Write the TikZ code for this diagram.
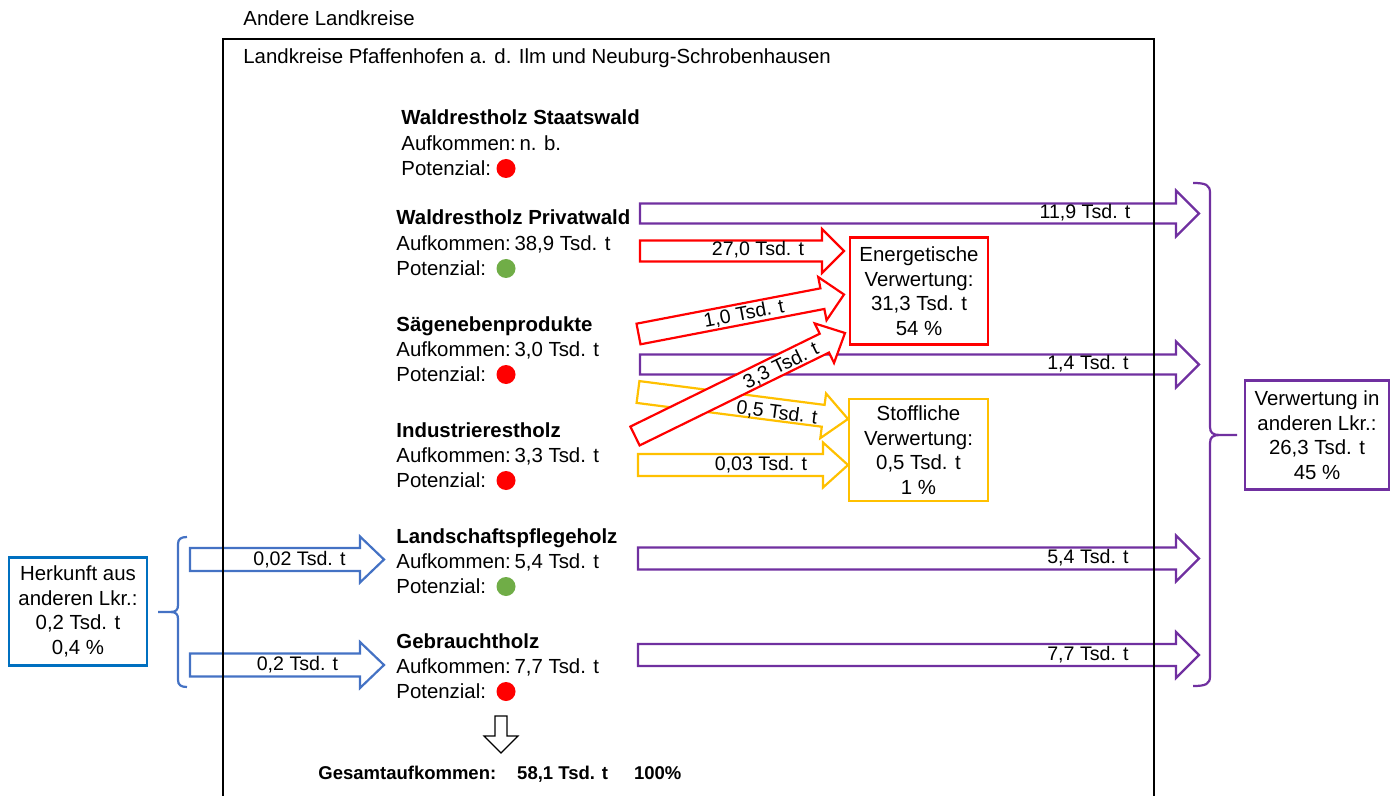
\documentclass[tikz,border=0pt]{standalone}
\usepackage{fontspec}
\setmainfont{Liberation Sans}
\usetikzlibrary{calc}

\definecolor{vio}{HTML}{7030A0}
\definecolor{rd}{HTML}{FF0000}
\definecolor{ylw}{HTML}{FFC000}
\definecolor{blu}{HTML}{4472C4}
\definecolor{boxblu}{HTML}{0070C0}
\definecolor{grn}{HTML}{70AD47}

\tikzset{
  txt/.style={inner sep=0pt, font=\fontsize{10.2}{12}\selectfont},
  ttl/.style={inner sep=0pt, font=\fontsize{10.2}{12}\selectfont\bfseries},
  lbl/.style={inner sep=0pt, font=\fontsize{9.8}{12}\selectfont},
  dot/.style={circle, inner sep=0pt, minimum size=9.5pt},
  sink/.style={draw, line width=1.1pt, align=center, inner sep=0pt,
    font=\fontsize{10.2}{12.25}\selectfont},
  flowV/.style={draw=vio, line width=1.1pt},
  flowR/.style={draw=rd, fill=white, line width=1.1pt},
  flowY/.style={draw=ylw, line width=1.1pt},
  flowB/.style={draw=blu, line width=1.1pt},
  sumarrow/.style={draw=black, fill=white, line width=0.6pt},
  frame/.style={draw=black, line width=0.8pt},
}

% Block arrow from coordinate #2 to coordinate #3;
% #4 body half-width, #5 head half-width, #6 head length (pt)
\makeatletter
\newcommand\blockarrow[6]{%
  \pgfpointdiff{\pgfpointanchor{#2}{center}}{\pgfpointanchor{#3}{center}}%
  \edef\ba@dx{\the\pgf@x}\edef\ba@dy{\the\pgf@y}%
  \pgfmathsetmacro\ba@len{veclen(\ba@dx,\ba@dy)}%
  \pgfmathsetmacro\ba@ang{atan2(\ba@dy,\ba@dx)}%
  \pgfmathsetmacro\ba@neck{\ba@len-#6}%
  \begin{scope}[shift={(#2)}, rotate=\ba@ang]
    \draw[#1] (0pt,-#4pt) -- (\ba@neck pt,-#4pt) -- (\ba@neck pt,-#5pt)
      -- (\ba@len pt,0pt) -- (\ba@neck pt,#5pt) -- (\ba@neck pt,#4pt)
      -- (0pt,#4pt) -- cycle;
  \end{scope}}
\makeatother

% One source: title, amount and potential dot
\newcommand\srcblock[6]{%
  \node[ttl, anchor=base west] (#1) at (#2,#3+7) {#4};
  \node[txt, anchor=base west] (#1-a) at (#2,#3+32.5) {Aufkommen:\hspace{1.8pt}#5};
  \node[txt, anchor=base west] (#1-p) at (#2,#3+57.5) {Potenzial:};
  \node[dot, fill=#6] (#1-d) at (506,#3+50.5) {};}

\begin{document}
\begin{tikzpicture}[x=0.5pt,y=-0.5pt]
\useasboundingbox (0,0) rectangle (1395,796);

% headings
\node[txt, anchor=base west] (outer) at (243,26) {Andere Landkreise};
\node[txt, anchor=base west] (inner) at (243,64) {Landkreise Pfaffenhofen a. d. Ilm und Neuburg-Schrobenhausen};

% sources
\srcblock{staat}{401}{118}{Waldrestholz Staatswald}{n. b.}{rd}
\srcblock{privat}{396}{218}{Waldrestholz Privatwald}{38,9 Tsd. t}{grn}
\srcblock{saege}{396}{324}{Sägenebenprodukte}{3,0 Tsd. t}{rd}
\srcblock{indu}{396}{430}{Industrierestholz}{3,3 Tsd. t}{rd}
\srcblock{land}{396}{536}{Landschaftspflegeholz}{5,4 Tsd. t}{grn}
\srcblock{gebr}{396}{641}{Gebrauchtholz}{7,7 Tsd. t}{rd}

% sinks
\node[sink, draw=rd, minimum width=69pt, minimum height=53.5pt] (energ) at (919,291)
  {Energetische\\Verwertung:\\31,3 Tsd. t\\54 \%};
\node[sink, draw=ylw, minimum width=69.5pt, minimum height=51pt] (stoff) at (918.5,450)
  {Stoffliche\\Verwertung:\\0,5 Tsd. t\\1 \%};
\node[sink, draw=vio, minimum width=72pt, minimum height=54.5pt] (export) at (1317,435)
  {Verwertung in\\anderen Lkr.:\\26,3 Tsd. t\\45 \%};
\node[sink, draw=boxblu, minimum width=69pt, minimum height=54pt] (import) at (78,611.5)
  {Herkunft aus\\anderen Lkr.:\\0,2 Tsd. t\\0,4 \%};

% arrow end points
\coordinate (v1s) at (640,213.5);  \coordinate (v1e) at (1199,213.5);
\coordinate (v2s) at (640,364.5);  \coordinate (v2e) at (1199,364.5);
\coordinate (v3s) at (638,558.5);  \coordinate (v3e) at (1199,558.5);
\coordinate (v4s) at (638,655);    \coordinate (v4e) at (1199,655);
\coordinate (y1s) at (638,392);    \coordinate (y1e) at (848,419);
\coordinate (y2s) at (638,465);    \coordinate (y2e) at (848,465);
\coordinate (r1s) at (640,251);    \coordinate (r1e) at (844,251);
\coordinate (r2s) at (638.5,334);  \coordinate (r2e) at (844,294.5);
\coordinate (r3s) at (635,436);    \coordinate (r3e) at (845,333);
\coordinate (b1s) at (190,559.5);  \coordinate (b1e) at (384,559.5);
\coordinate (b2s) at (190,665);    \coordinate (b2e) at (384,665);
\coordinate (ds)  at (501,716);    \coordinate (de)  at (501,753);

% flows to other districts
\blockarrow{flowV}{v1s}{v1e}{5}{11.5}{11.5}
\blockarrow{flowV}{v2s}{v2e}{5}{11.5}{11.5}
\blockarrow{flowV}{v3s}{v3e}{5.5}{11.5}{11.5}
\blockarrow{flowV}{v4s}{v4e}{5.5}{11.5}{11.5}
% material use
\blockarrow{flowY}{y1s}{y1e}{5.5}{11.25}{12.5}
\blockarrow{flowY}{y2s}{y2e}{5.5}{11.25}{12.5}
% imports
\blockarrow{flowB}{b1s}{b1e}{5.75}{11.5}{12}
\blockarrow{flowB}{b2s}{b2e}{5.75}{11.5}{12}
% energy use
\blockarrow{flowR}{r1s}{r1e}{5.25}{11}{11}
\blockarrow{flowR}{r2s}{r2e}{5.25}{11}{11}
\blockarrow{flowR}{r3s}{r3e}{5.25}{11}{11.5}
% total
\blockarrow{sumarrow}{ds}{de}{3}{8.5}{8.5}

% district frame
\draw[frame] (223,796) -- (223,39) -- (1154,39) -- (1154,796);

% braces
\draw[vio, line width=1.1pt]
  (1193,183) .. controls (1206,183) and (1210,185) .. (1210,193) -- (1210,427)
  .. controls (1210,433) and (1213,435) .. (1220,435) -- (1237,435)
  (1220,435) .. controls (1213,435) and (1210,437) .. (1210,443) -- (1210,676)
  .. controls (1210,684) and (1206,686) .. (1193,686);
\draw[blu, line width=1.1pt]
  (187,537) .. controls (181,537) and (178,539) .. (178,544) -- (178,605)
  .. controls (178,610) and (176,612) .. (170,612) -- (158,612)
  (170,612) .. controls (176,612) and (178,614) .. (178,619) -- (178,680)
  .. controls (178,685) and (181,687) .. (187,687);

% flow labels
\node[lbl] (l119) at (1085,213) {11,9 Tsd. t};
\node[lbl] (l14) at (1088,364) {1,4 Tsd. t};
\node[lbl] (l54) at (1088,558) {5,4 Tsd. t};
\node[lbl] (l77) at (1088,655) {7,7 Tsd. t};
\node[lbl] (l270) at (758,250) {27,0 Tsd. t};
\node[lbl, rotate=10.8] (l10) at (744,314) {1,0 Tsd. t};
\node[lbl, rotate=26] (l33) at (781,366) {3,3 Tsd. t};
\node[lbl, rotate=-7.3] (l05) at (777,413) {0,5 Tsd. t};
\node[lbl] (l003) at (761,465) {0,03 Tsd. t};
\node[lbl] (l002) at (299.5,560) {0,02 Tsd. t};
\node[lbl] (l02) at (297.5,665) {0,2 Tsd. t};

% total
\node[ttl, font=\fontsize{9.25}{11}\selectfont\bfseries, anchor=base west] (total) at (318,779)
  {Gesamtaufkommen:\hspace{10.5pt}58,1 Tsd. t\hspace{13pt}100\%};
\end{tikzpicture}
\end{document}
